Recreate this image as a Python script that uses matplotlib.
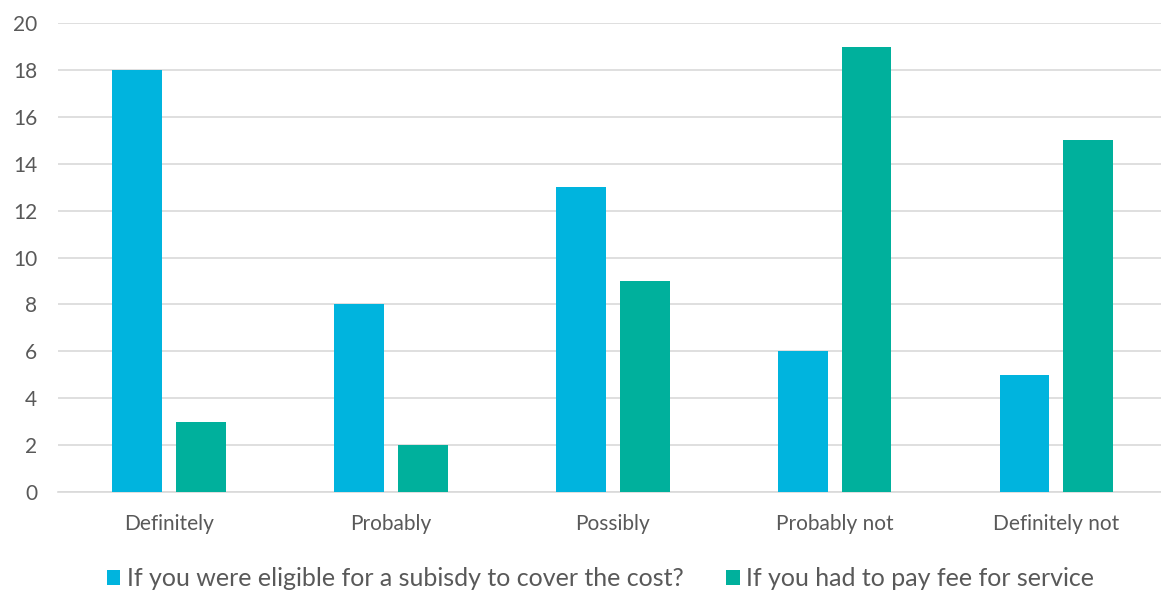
import matplotlib
matplotlib.use('Agg')
import matplotlib.pyplot as plt
import numpy as np

categories = ['Definitely', 'Probably', 'Possibly', 'Probably not', 'Definitely not']
subsidy = [18, 8, 13, 6, 5]
pay_fee = [3, 2, 9, 19, 15]
series_names = ['If you were eligible for a subisdy to cover the cost?',
                'If you had to pay fee for service']

plt.rcParams['font.family'] = ['Lato', 'DejaVu Sans']
text_col = '#595959'

fig = plt.figure(figsize=(11.61, 5.92), dpi=100)
ax = fig.add_axes([0.05, 0.169, 0.9555, 0.792])

x = np.arange(len(categories))
w = 0.225
ax.bar(x - 0.144, subsidy, w, color='#00B4DE', label=series_names[0], zorder=3)
ax.bar(x + 0.144, pay_fee, w, color='#00B09C', label=series_names[1], zorder=3)

ax.set_xlim(-0.5, len(categories) - 0.5)
ax.set_ylim(0, 20)
ax.set_yticks(range(0, 21, 2))
ax.set_xticks(x)
ax.set_xticklabels(categories)
ax.yaxis.grid(True, color='#D9D9D9', linewidth=1.2, zorder=0)
for s in ['top', 'right', 'left']:
    ax.spines[s].set_visible(False)
ax.spines['bottom'].set_color('#D9D9D9')
ax.spines['bottom'].set_linewidth(1.2)
ax.tick_params(axis='both', length=0, colors=text_col, labelsize=15)
ax.tick_params(axis='x', pad=16)
ax.tick_params(axis='y', pad=15)

fig.legend(loc='lower center', bbox_to_anchor=(0.517, -0.035), ncol=2, frameon=False,
           fontsize=18, handlelength=0.55, handleheight=0.55, handletextpad=0.25,
           columnspacing=1.7, labelcolor=text_col)

plt.savefig('out.png')
